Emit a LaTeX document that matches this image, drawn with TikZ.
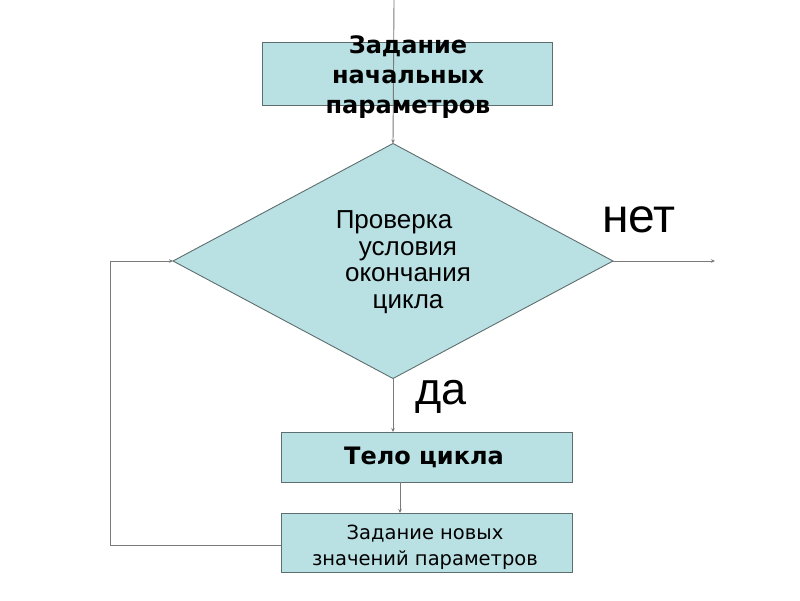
\documentclass[tikz,border=0pt]{standalone}
\usepackage{fontspec}
\usetikzlibrary{shapes.geometric,arrows.meta}
\newfontfamily\verd{DejaVu Sans}
\newfontfamily\arl{Liberation Sans}
\definecolor{boxfill}{HTML}{B9E0E3}
\definecolor{boxline}{HTML}{5E6E6E}
\definecolor{conn}{HTML}{7A7A7A}
\tikzset{
  box/.style={rectangle, draw=boxline, fill=boxfill, line width=0.9pt, outer sep=0pt, inner sep=0pt},
  cond/.style={diamond, draw=boxline, fill=boxfill, line width=0.9pt, outer sep=0pt, inner sep=0pt,
    minimum width=440pt, minimum height=235pt},
  arr/.style={draw=conn, line width=0.9pt, -{Stealth[length=4pt,width=3.5pt]}},
  boldtxt/.style={font=\verd\bfseries\fontsize{24}{30}\selectfont, align=center, inner sep=0pt},
  condtxt/.style={font=\arl\fontsize{26}{26.5}\selectfont, align=center, inner sep=0pt},
  normtxt/.style={font=\verd\fontsize{19.5}{26}\selectfont, align=center, inner sep=0pt},
  bigtxt/.style={font=\arl\fontsize{48}{50}\selectfont, inner sep=0pt, anchor=base}
}
\begin{document}
\begin{tikzpicture}[x=1pt,y=-1pt]
\useasboundingbox (0,0) rectangle (800,600);
% box 1
\node[box, minimum width=290pt, minimum height=63pt] (b1) at (407,73.5) {};
\coordinate (top) at (394,0);
% diamond
\node[cond] (c) at (393,261) {};
\draw[arr] (top) -- (c.north);
\node[boldtxt] (b1t) at (408,77) {Задание\\начальных\\параметров};
\node[condtxt] (ct) at (408,262) {Проверка\hspace*{28pt}\\условия\\окончания\\цикла};
% box 2 and 3
\node[box, minimum width=291pt, minimum height=50pt] (b2) at (426.5,457) {};
\node[boldtxt] (b2t) at (424,457) {Тело цикла};
\node[box, minimum width=291pt, minimum height=59pt] (b3) at (426.5,542.5) {};
\node[normtxt] (b3t) at (425,547) {Задание новых\\значений параметров};
% labels
\node[bigtxt] (net) at (639,232) {нет};
\node[bigtxt, font=\arl\fontsize{45}{47}\selectfont] (da) at (441,404) {да};
% connectors
\coordinate (outR) at (715,261);
\draw[arr] (c.east) -- (outR);
\draw[arr] (c.south) -- (c.south |- b2.north);
\draw[arr] ([xshift=7pt]c.south |- b2.south) -- ([xshift=7pt]c.south |- b3.north);
\coordinate (loopL) at (110,545);
\draw[arr] ([yshift=-2.5pt]b3.west) -- (loopL) |- (c.west);
\end{tikzpicture}
\end{document}
